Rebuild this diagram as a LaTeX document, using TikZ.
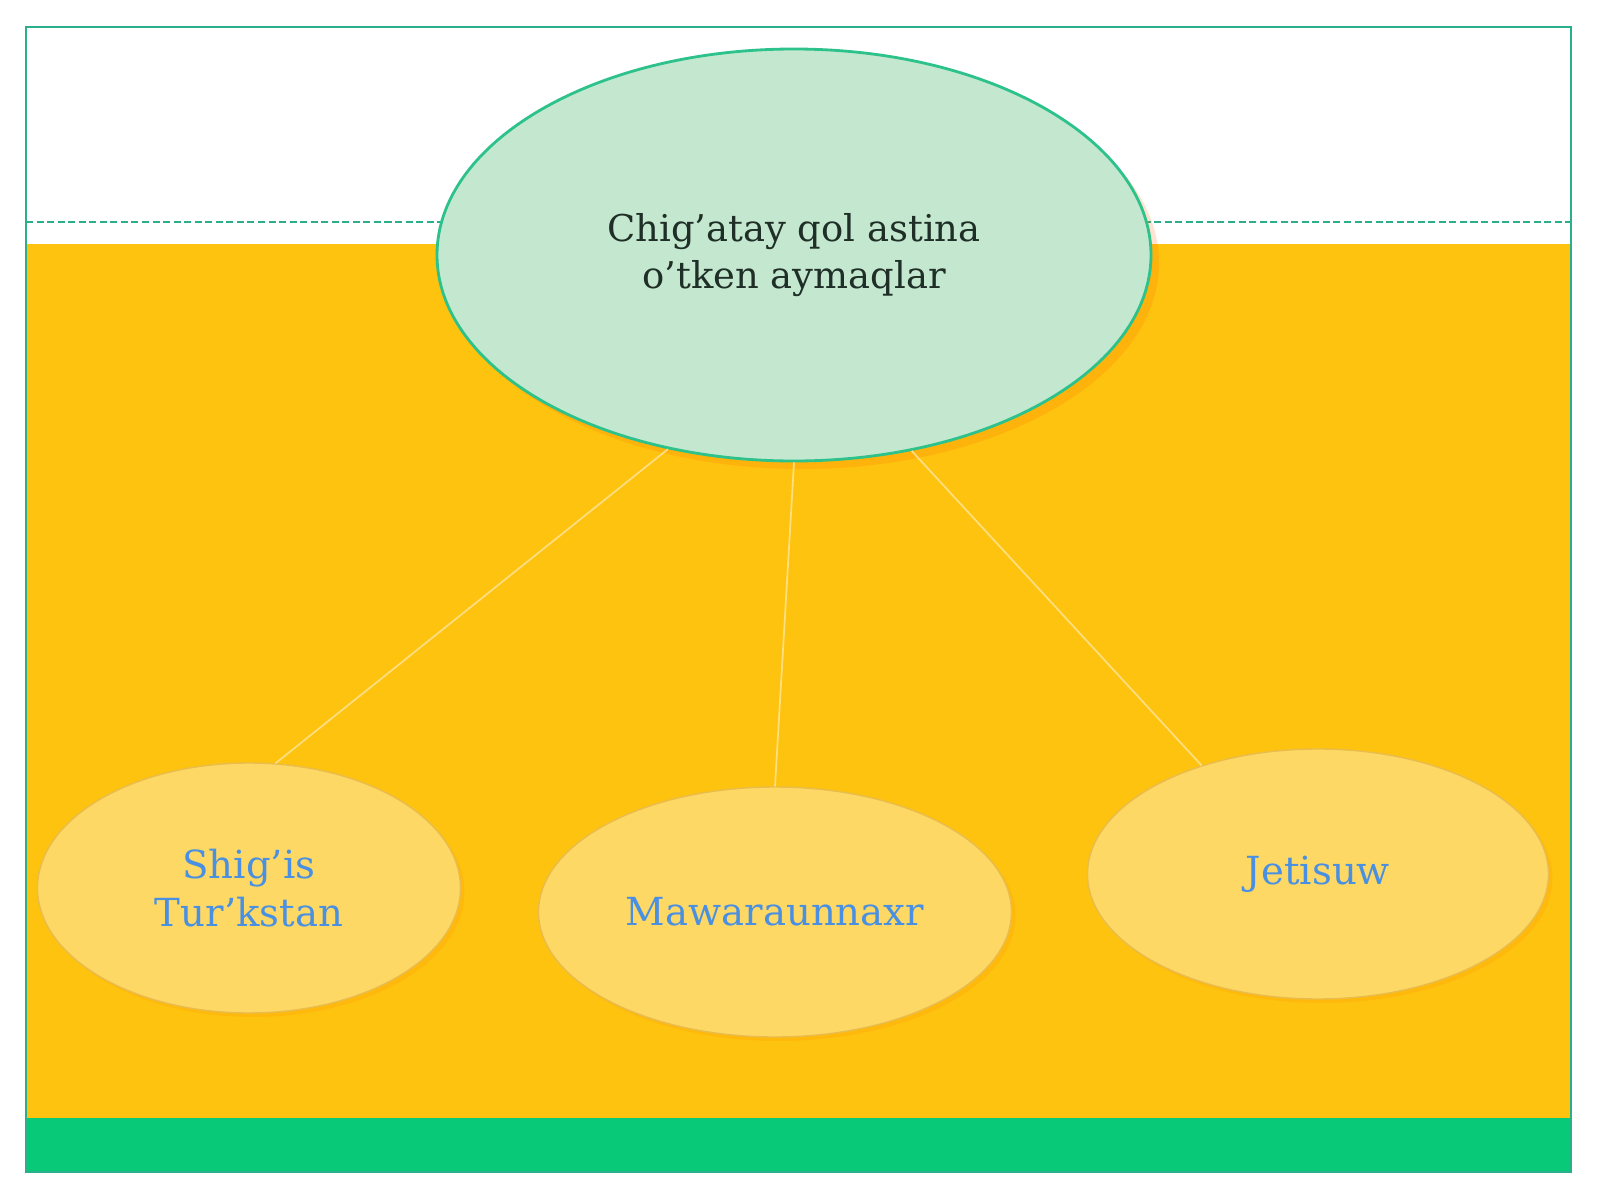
\documentclass[tikz,border=0pt]{standalone}
\usepackage{fontspec}
\setmainfont{DejaVu Serif}
\usetikzlibrary{shapes.geometric, shadows}

\definecolor{frameGreen}{HTML}{2BAF8A}
\definecolor{bandGreen}{HTML}{08C977}
\definecolor{bgYellow}{HTML}{FEC30F}
\definecolor{leafYellow}{HTML}{FDD865}
\definecolor{leafEdge}{HTML}{E9BC4C}
\definecolor{rootFill}{HTML}{C4E8CF}
\definecolor{rootEdge}{HTML}{2DC28C}
\definecolor{linkYellow}{HTML}{FFDE80}
\definecolor{leafText}{HTML}{4A90E2}
\definecolor{rootText}{HTML}{1F2F27}

\begin{document}
\begin{tikzpicture}[x=0.1mm, y=-0.1mm,
  root/.style={ellipse, draw=rootEdge, fill=rootFill, line width=0.8pt,
    minimum width=71.4mm, minimum height=41.2mm, inner sep=0pt, align=center,
    text=rootText, font=\fontsize{10.5}{13.6}\selectfont,
    drop shadow={shadow xshift=0.8mm, shadow yshift=-0.8mm, fill=orange!80!red, opacity=0.18}},
  leaf/.style={ellipse, draw=leafEdge, fill=leafYellow, line width=0.4pt,
    minimum height=25mm, inner sep=0pt, align=center,
    text=leafText, font=\fontsize{11}{13.6}\selectfont,
    drop shadow={shadow xshift=0.4mm, shadow yshift=-0.4mm, fill=orange, opacity=0.15}},
  link/.style={draw=linkYellow, line width=0.5pt}]

  \useasboundingbox (0,0) rectangle (1600,1200);
  \fill[white] (0,0) rectangle (1600,1200);

  % 背景
  \fill[bgYellow] (26,244) rectangle (1571,1118);
  \fill[bandGreen] (26,1118) rectangle (1571,1172);
  \draw[frameGreen, line width=0.8pt] (26,27) rectangle (1571,1172);
  \draw[frameGreen, line width=0.4pt, dash pattern=on 2pt off 1pt] (26,222) -- (1571,222);

  % 椭圆
  \node[root] (top) at (794,255) {Chig’atay qol astina\\o’tken aymaqlar};
  \node[leaf, minimum width=42.3mm] (east) at (249,888) {Shig’is\\Tur’kstan};
  \node[leaf, minimum width=47.3mm] (mid) at (775,912) {Mawaraunnaxr};
  \node[leaf, minimum width=46.1mm] (jeti) at (1318,874) {Jetisuw};

  % 连线
  \draw[link] (top.237) -- (east.78);
  \draw[link] (top.south) -- (mid.north);
  \draw[link] (top.301) -- (jeti.137);
\end{tikzpicture}
\end{document}
